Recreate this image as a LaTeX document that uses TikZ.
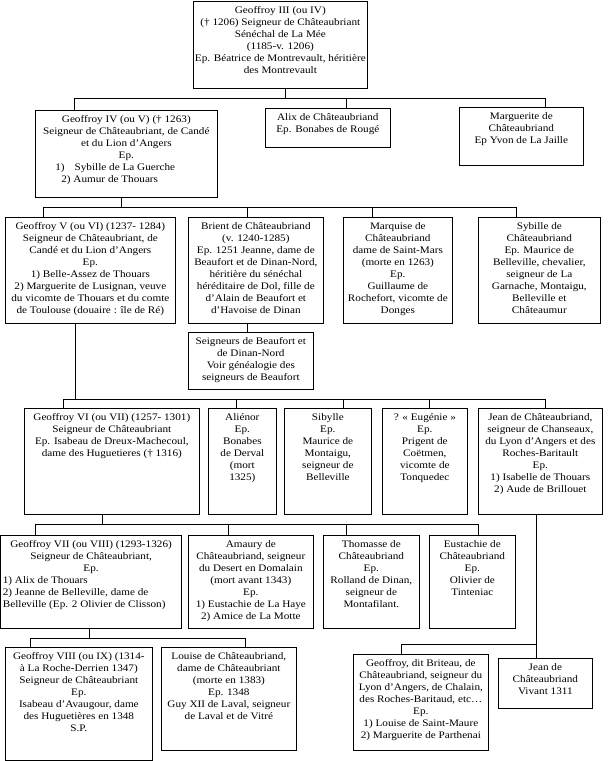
\documentclass[tikz,border=0pt]{standalone}
\usepackage{fontspec}
\setmainfont[FakeStretch=1.12]{Liberation Serif}
\newcommand{\gtext}[3]{\begin{minipage}[t][#2pt][t]{#1pt}\centering\vspace*{5.5pt}#3\end{minipage}}
\newcommand{\lft}[2]{\makebox[\linewidth][l]{\hspace*{#1pt}#2}}
\begin{document}
\begin{tikzpicture}[x=1pt,y=-1pt,
  gb/.style={draw=black,line width=0.7pt,inner sep=0pt,anchor=north west,
    font=\fontsize{10}{11.9}\selectfont},
  conn/.style={draw=black,line width=0.7pt}]
\useasboundingbox (0,0) rectangle (608,761);
% ---- boxes
\node[gb] (g3) at (193,1) {\gtext{174}{87}{Geoffroy III (ou IV)\\(† 1206) Seigneur de Châteaubriant\\Sénéchal de La Mée\\(1185-v. 1206)\\Ep. Béatrice de Montrevault, héritière\\des Montrevault}};
\node[gb] (g4) at (35,110) {\gtext{182}{87}{Geoffroy IV (ou V) († 1263)\\Seigneur de Châteaubriant, de Candé\\et du Lion d’Angers\\Ep.\\\lft{20}{1)\hspace{10pt}Sybille de La Guerche}\\\lft{26}{2) Aumur de Thouars}}};
\node[gb] (alix) at (265,108) {\gtext{125}{39}{Alix de Châteaubriand\\Ep. Bonabes de Rougé}};
\node[gb] (marg) at (459,107) {\gtext{124}{58}{Marguerite de\\Châteaubriand\\Ep Yvon de La Jaille}};
\node[gb] (g5) at (5,217) {\gtext{170}{106}{Geoffroy V (ou VI) (1237- 1284)\\Seigneur de Châteaubriant, de\\Candé et du Lion d’Angers\\Ep.\\1) Belle-Assez de Thouars\\2) Marguerite de Lusignan, veuve\\du vicomte de Thouars et du comte\\de Toulouse (douaire : île de Ré)}};
\node[gb] (brient) at (188,217) {\gtext{135}{106}{Brient de Châteaubriand\\(v. 1240-1285)\\Ep. 1251 Jeanne, dame de\\Beaufort et de Dinan-Nord,\\héritière du sénéchal\\héréditaire de Dol, fille de\\d’Alain de Beaufort et\\d’Havoise de Dinan}};
\node[gb] (marq) at (343,217) {\gtext{109}{106}{Marquise de\\Châteaubriand\\dame de Saint-Mars\\(morte en 1263)\\Ep.\\Guillaume de\\Rochefort, vicomte de\\Donges}};
\node[gb] (syb) at (478,217) {\gtext{122}{106}{Sybille de\\Châteaubriand\\Ep. Maurice de\\Belleville, chevalier,\\seigneur de La\\Garnache, Montaigu,\\Belleville et\\Châteaumur}};
\node[gb] (seig) at (188,332) {\gtext{125}{57}{Seigneurs de Beaufort et\\de Dinan-Nord\\Voir généalogie des\\seigneurs de Beaufort}};
\node[gb] (g6) at (24,408) {\gtext{175}{106}{Geoffroy VI (ou VII) (1257- 1301)\\Seigneur de Châteaubriant\\Ep. Isabeau de Dreux-Machecoul,\\dame des Huguetieres († 1316)}};
\node[gb] (alie) at (208,408) {\gtext{68}{106}{Aliénor\\Ep.\\Bonabes\\de Derval\\(mort\\1325)}};
\node[gb] (sib) at (284,408) {\gtext{87}{106}{Sibylle\\Ep.\\Maurice de\\Montaigu,\\seigneur de\\Belleville}};
\node[gb] (eug) at (382,408) {\gtext{85}{106}{? « Eugénie »\\Ep.\\Prigent de\\Coëtmen,\\vicomte de\\Tonquedec}};
\node[gb] (jean) at (478,408) {\gtext{124}{106}{Jean de Châteaubriand,\\seigneur de Chanseaux,\\du Lyon d’Angers et des\\Roches-Baritault\\Ep.\\1) Isabelle de Thouars\\2) Aude de Brillouet}};
\node[gb] (g7) at (0.5,535) {\gtext{180.5}{93}{Geoffroy VII (ou VIII) (1293-1326)\\Seigneur de Châteaubriant,\\Ep.\\\lft{2}{1) Alix de Thouars}\\\lft{2}{2) Jeanne de Belleville, dame de}\\\lft{2}{Belleville (Ep. 2 Olivier de Clisson)}}};
\node[gb] (amau) at (188,535) {\gtext{125}{93}{Amaury de\\Châteaubriand, seigneur\\du Desert en Domalain\\(mort avant 1343)\\Ep.\\1) Eustachie de La Haye\\2) Amice de La Motte}};
\node[gb] (thom) at (323,535) {\gtext{96}{93}{Thomasse de\\Châteaubriand\\Ep.\\Rolland de Dinan,\\seigneur de\\Montafilant.}};
\node[gb] (eust) at (429,535) {\gtext{86}{93}{Eustachie de\\Châteaubriand\\Ep.\\Olivier de\\Tinteniac}};
\node[gb] (g8) at (5,647) {\gtext{147}{113}{Geoffroy VIII (ou IX) (1314-\\à La Roche-Derrien 1347)\\Seigneur de Châteaubriant\\Ep.\\Isabeau d’Avaugour, dame\\des Huguetières en 1348\\S.P.}};
\node[gb] (lou) at (161,647) {\gtext{135}{103}{Louise de Châteaubriand,\\dame de Châteaubriant\\(morte en 1383)\\Ep. 1348\\Guy XII de Laval, seigneur\\de Laval et de Vitré}};
\node[gb] (brit) at (353,654) {\gtext{135}{96}{Geoffroy, dit Briteau, de\\Châteaubriand, seigneur du\\Lyon d’Angers, de Chalain,\\des Roches-Baritaud, etc…\\Ep.\\1) Louise de Saint-Maure\\2) Marguerite de Parthenai}};
\node[gb] (jeanv) at (498,658) {\gtext{94}{50}{Jean de\\Châteaubriand\\Vivant 1311}};
% ---- bus coordinates
\coordinate (a0) at (285,98);
\coordinate (a1) at (74,98);
\coordinate (a2) at (346,98);
\coordinate (a3) at (545,98);
\coordinate (b0) at (121,207);
\coordinate (b1) at (43,207);
\coordinate (b2) at (247,207);
\coordinate (b3) at (372,207);
\coordinate (b4) at (516,207);
\coordinate (c0) at (75,399);
\coordinate (c1) at (63,399);
\coordinate (c2) at (236,399);
\coordinate (c3) at (343,399);
\coordinate (c4) at (429,399);
\coordinate (c5) at (545,399);
\coordinate (d0) at (102,524);
\coordinate (d1) at (35,524);
\coordinate (d2) at (228,524);
\coordinate (d3) at (346,524);
\coordinate (d4) at (478,524);
\coordinate (e0) at (89,638);
\coordinate (e1) at (30,638);
\coordinate (e2) at (245,638);
\coordinate (f0) at (536,644);
\coordinate (f1) at (401,644);
% ---- connectors
\draw[conn] (a0 |- g3.south) -- (a0);
\draw[conn] (a1 |- g4.north) -- (a1) -- (a3) -- (a3 |- marg.north);
\draw[conn] (a2) -- (a2 |- alix.north);
\draw[conn] (b0 |- g4.south) -- (b0);
\draw[conn] (b1 |- g5.north) -- (b1) -- (b4) -- (b4 |- syb.north);
\draw[conn] (b2) -- (b2 |- brient.north);
\draw[conn] (b3) -- (b3 |- marq.north);
\draw[conn] (b2 |- brient.south) -- (b2 |- seig.north);
\draw[conn] (c0 |- g5.south) -- (c0);
\draw[conn] (c1 |- g6.north) -- (c1) -- (c5) -- (c5 |- jean.north);
\draw[conn] (c2) -- (c2 |- alie.north);
\draw[conn] (c3) -- (c3 |- sib.north);
\draw[conn] (c4) -- (c4 |- eug.north);
\draw[conn] (d0 |- g6.south) -- (d0);
\draw[conn] (d1 |- g7.north) -- (d1) -- (d4) -- (d4 |- eust.north);
\draw[conn] (d2) -- (d2 |- amau.north);
\draw[conn] (d3) -- (d3 |- thom.north);
\draw[conn] (e0 |- g7.south) -- (e0);
\draw[conn] (e1 |- g8.north) -- (e1) -- (e2) -- (e2 |- lou.north);
\draw[conn] (f0 |- jean.south) -- (f0 |- jeanv.north);
\draw[conn] (f0) -- (f1) -- (f1 |- brit.north);
\end{tikzpicture}
\end{document}
